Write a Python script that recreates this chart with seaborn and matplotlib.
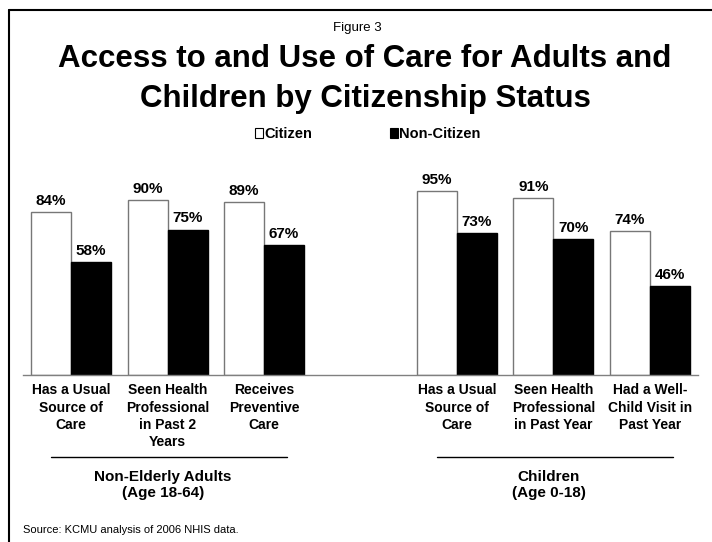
import matplotlib
matplotlib.use("Agg")
import matplotlib.pyplot as plt
import matplotlib.transforms as mtransforms
from matplotlib.patches import Patch
from matplotlib.lines import Line2D
import seaborn as sns
import pandas as pd

# ---- data ----
adult_keys = ["A1", "A2", "A3"]
adult_labels = ["Has a Usual\nSource of\nCare", "Seen Health\nProfessional\nin Past 2\nYears", "Receives\nPreventive\nCare"]
adult_citizen = [84, 90, 89]
adult_noncitizen = [58, 75, 67]

child_keys = ["C1", "C2", "C3"]
child_labels = ["Has a Usual\nSource of\nCare", "Seen Health\nProfessional\nin Past Year", "Had a Well-\nChild Visit in\nPast Year"]
child_citizen = [95, 91, 74]
child_noncitizen = [73, 70, 46]

series = ["Citizen", "Non-Citizen"]
group_labels = ["Non-Elderly Adults\n(Age 18-64)", "Children\n(Age 0-18)"]

keys = adult_keys + child_keys
rows = []
for k, c, n in zip(keys, adult_citizen + child_citizen, adult_noncitizen + child_noncitizen):
    rows.append({"key": k, "status": series[0], "value": c})
    rows.append({"key": k, "status": series[1], "value": n})
df = pd.DataFrame(rows)
order = adult_keys + ["_gap"] + child_keys
tick_labels = adult_labels + [""] + child_labels

# ---- figure ----
sns.set_style("white")
plt.rcParams["font.family"] = ["Liberation Sans", "DejaVu Sans"]
plt.rcParams["text.color"] = "black"
plt.rcParams["xtick.color"] = "black"
plt.rcParams["xtick.labelcolor"] = "black"
plt.rcParams["axes.labelcolor"] = "black"

W, H = 712, 542
fig = plt.figure(figsize=(W / 100, H / 100), dpi=100)
ax_left, ax_right, ax_bottom, ax_top = 23, 698, 375, 181
ax = fig.add_axes([ax_left / W, 1 - ax_bottom / H, (ax_right - ax_left) / W, (ax_bottom - ax_top) / H])

sns.barplot(data=df, x="key", y="value", hue="status", order=order, hue_order=series,
            palette={series[0]: "white", series[1]: "black"}, width=0.83,
            edgecolor="black", linewidth=1, legend=False, ax=ax)

for p in ax.containers[0]:
    p.set_edgecolor("#777777")
for cont in ax.containers:
    ax.bar_label(cont, fmt="{:.0f}%", padding=3, fontsize=11, fontweight="bold", color="black")

ax.set_xlim(-0.5, len(order) - 0.5)
ax.set_ylim(0, 100)
ax.set_xlabel("")
ax.set_ylabel("")
ax.set_yticks([])
for s in ["top", "right", "left"]:
    ax.spines[s].set_visible(False)
ax.spines["bottom"].set_color("#808080")
ax.spines["bottom"].set_linewidth(1)

ax.set_xticks(range(len(order)))
ax.set_xticklabels(tick_labels, fontsize=10, fontweight="bold", linespacing=1.3, color="black")
ax.tick_params(axis="x", which="major", length=0, pad=6)
ax.set_xticks([i - 0.5 for i in range(len(order) + 1)], minor=True)
ax.tick_params(axis="x", which="minor", length=4, width=1, color="#808080", direction="out")

# group underlines and labels
btrans = mtransforms.blended_transform_factory(ax.transData, fig.transFigure)
for center, lab in zip([1, 5], group_labels):
    ax.add_line(Line2D([center - 1.21, center + 1.24], [1 - 457 / H, 1 - 457 / H],
                       transform=btrans, color="black", lw=1, clip_on=False))
    fig.text(center - 0.05, 1 - 485 / H, lab, transform=btrans, ha="center", va="center",
             fontsize=11, fontweight="bold", linespacing=1.1, color="black")

# titles
fig.text(357 / W, 1 - 28 / H, "Figure 3", ha="center", va="center", fontsize=9.5, color="black")
fig.text(365 / W, 1 - 79 / H, "Access to and Use of Care for Adults and\nChildren by Citizenship Status",
         ha="center", va="center", fontsize=22.5, fontweight="bold", linespacing=1.4, color="black")

# legend
handles = [Patch(facecolor="white", edgecolor="black", linewidth=0.8, label=series[0]),
           Patch(facecolor="black", edgecolor="black", linewidth=0.8, label=series[1])]
fig.legend(handles=handles, loc="center", bbox_to_anchor=(368 / W, 1 - 134 / H), ncol=2,
           frameon=False, prop={"weight": "bold", "size": 10.5}, handlelength=0.55,
           handleheight=0.75, handletextpad=0.1, columnspacing=5.3, borderpad=0,
           labelcolor="black")

# source
fig.text(23 / W, 1 - 530 / H, "Source: KCMU analysis of 2006 NHIS data.", ha="left", va="center",
         fontsize=8, color="black")

# frame (top and left visible)
fig.add_artist(Line2D([8.5 / W, 1.0], [1 - 10 / H, 1 - 10 / H], transform=fig.transFigure, color="black", lw=1.5))
fig.add_artist(Line2D([8.5 / W, 8.5 / W], [0, 1 - 10 / H], transform=fig.transFigure, color="black", lw=1.5))

fig.savefig("out.png", dpi=100, facecolor="white")
